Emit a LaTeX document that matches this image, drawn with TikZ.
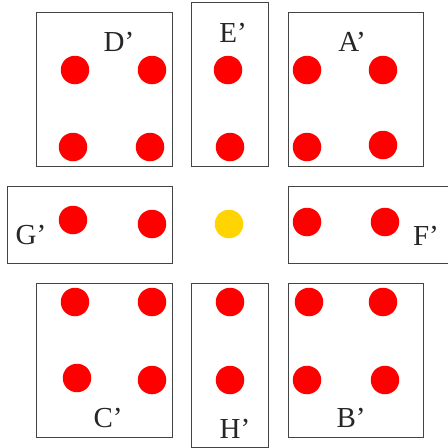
\documentclass[tikz,border=0pt]{standalone}
\usepackage{fontspec}
\setmainfont{Liberation Serif}
\definecolor{dotred}{HTML}{FF0000}
\definecolor{dotyellow}{HTML}{FFD400}
\definecolor{boxline}{HTML}{444444}
\begin{document}
\begin{tikzpicture}[x=1pt,y=-1pt,
  panel/.style={draw=boxline,line width=1.1pt,rectangle,inner sep=0pt,anchor=north west},
  reddot/.style={circle,fill=dotred,inner sep=0pt,minimum size=28.5pt},
  yeldot/.style={circle,fill=dotyellow,inner sep=0pt,minimum size=28.5pt},
  lab/.style={inner sep=0pt,font=\fontsize{29}{29}\selectfont,text=black!85}]
\useasboundingbox (0,0) rectangle (448,448);
% boxes
\node[panel,minimum width=136pt,minimum height=154pt] (bD) at (36,12) {};
\node[panel,minimum width=77pt,minimum height=164pt] (bE) at (191,2) {};
\node[panel,minimum width=135pt,minimum height=154pt] (bA) at (288,12) {};
\node[panel,minimum width=165pt,minimum height=77pt] (bG) at (7,186) {};
\node[panel,minimum width=175pt,minimum height=77pt] (bF) at (288,186) {};
\node[panel,minimum width=136pt,minimum height=154pt] (bC) at (36,283) {};
\node[panel,minimum width=77pt,minimum height=164pt] (bH) at (191,283) {};
\node[panel,minimum width=135pt,minimum height=154pt] (bB) at (288,283) {};
% labels
\node[lab] (lD) at (119,42) {D'};
\node[lab] (lE) at (233,33) {E'};
\node[lab] (lA) at (352,42) {A'};
\node[lab] (lG) at (31,235) {G'};
\node[lab] (lF) at (426,236) {F'};
\node[lab] (lC) at (108,418) {C'};
\node[lab] (lH) at (235,429) {H'};
\node[lab] (lB) at (351,418) {B'};
% D' dots
\node[reddot] (d1) at (75,70) {};
\node[reddot] (d2) at (152,70) {};
\node[reddot] (d3) at (73,147) {};
\node[reddot] (d4) at (150,147) {};
% E' dots
\node[reddot] (e1) at (228,70) {};
\node[reddot] (e2) at (230,147) {};
% A' dots
\node[reddot] (a1) at (307,70) {};
\node[reddot] (a2) at (383,70) {};
\node[reddot] (a3) at (307,147) {};
\node[reddot] (a4) at (383,145) {};
% G' dots
\node[reddot] (g1) at (73,220) {};
\node[reddot] (g2) at (152,224) {};
% centre
\node[yeldot] (c0) at (229,224) {};
% F' dots
\node[reddot] (f1) at (307,222) {};
\node[reddot] (f2) at (385,222) {};
% C' dots
\node[reddot] (c1) at (75,302) {};
\node[reddot] (c2) at (152,302) {};
\node[reddot] (c3) at (77,378) {};
\node[reddot] (c4) at (152,380) {};
% H' dots
\node[reddot] (h1) at (230,302) {};
\node[reddot] (h2) at (230,380) {};
% B' dots
\node[reddot] (b1) at (309,302) {};
\node[reddot] (b2) at (383,302) {};
\node[reddot] (b3) at (307,380) {};
\node[reddot] (b4) at (385,380) {};
\end{tikzpicture}
\end{document}
